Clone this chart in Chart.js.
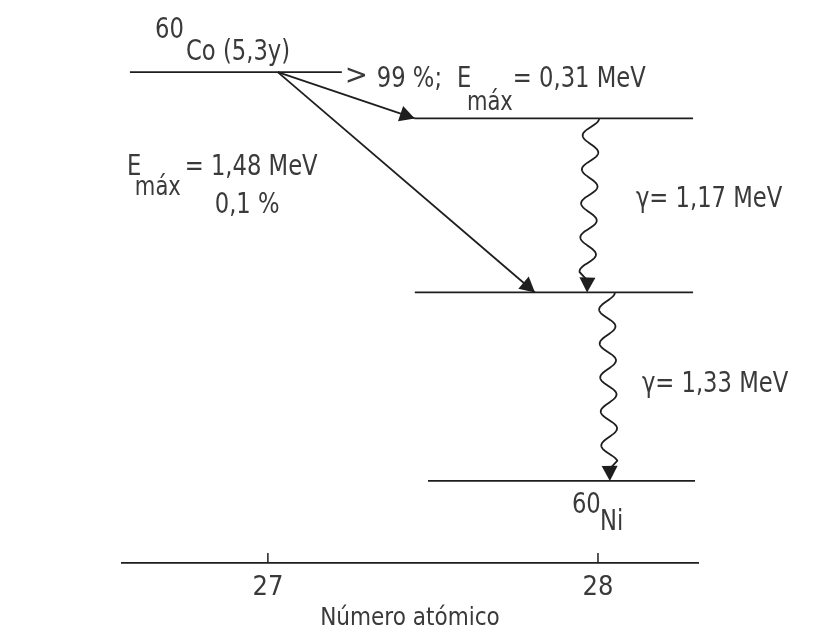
<!DOCTYPE html>
<html>
<head>
<meta charset="utf-8">
<script src="https://cdn.jsdelivr.net/npm/chart.js@4.4.1/dist/chart.umd.min.js"></script>
<style>
  html, body { margin: 0; padding: 0; background: #fff; }
  #wrap { width: 822px; height: 638px; }
</style>
</head>
<body>
<div id="wrap"><canvas id="esquema"></canvas></div>
<script>
// Ejes
var ticksX = [27, 28];
var tituloX = 'Número atómico';

// Niveles de energía (MeV)
var nivelEnergia = [2.82, 2.50, 1.30, 0];
var nivelDesde = [26.582, 27.445, 27.445, 27.485];
var nivelHasta = [27.224, 28.288, 28.288, 28.294];

// Transiciones beta
var betaDesdeX = [27.030, 27.030];
var betaDesdeE = [2.82, 2.82];
var betaHastaX = [27.445, 27.809];
var betaHastaE = [2.50, 1.30];

// Transiciones gamma
var gammaDesdeX = [27.979, 28.027];
var gammaDesdeE = [2.50, 1.30];
var gammaHastaX = [27.967, 28.036];
var gammaHastaE = [1.30, 0];

// Textos
var textos = ['60', 'Co (5,3y)', '>', '99 %;', 'E', 'máx', '= 0,31 MeV', 'E', 'máx', '= 1,48 MeV', '0,1 %', 'γ= 1,17 MeV', 'γ= 1,33 MeV', '60', 'Ni'];
var textoX = [26.658, 26.752, 27.233, 27.330, 27.573, 27.603, 27.742, 26.573, 26.597, 26.748, 26.839, 28.115, 28.133, 27.921, 28.006];
var textoE = [3.055, 2.903, 2.740, 2.717, 2.717, 2.559, 2.717, 2.110, 1.972, 2.110, 1.848, 1.890, 0.614, -0.221, -0.338];

var FUENTE = "'DejaVu Sans Condensed', 'DejaVu Sans', sans-serif";
var LINEA = '#1e1e1e';
var TEXTO = '#3a3a3a';

var datasets = [];

// niveles
for (var i = 0; i < nivelEnergia.length; i++) {
  datasets.push({
    data: [{ x: nivelDesde[i], y: nivelEnergia[i] }, { x: nivelHasta[i], y: nivelEnergia[i] }],
    borderColor: LINEA, borderWidth: 1.8, pointRadius: 0
  });
}
// beta
for (var i = 0; i < betaDesdeX.length; i++) {
  datasets.push({
    data: [{ x: betaDesdeX[i], y: betaDesdeE[i] }, { x: betaHastaX[i], y: betaHastaE[i] }],
    borderColor: LINEA, borderWidth: 1.8, pointRadius: 0, flecha: true
  });
}
// gamma (se dibujan onduladas en el plugin)
for (var i = 0; i < gammaDesdeX.length; i++) {
  datasets.push({
    data: [{ x: gammaDesdeX[i], y: gammaDesdeE[i] }, { x: gammaHastaX[i], y: gammaHastaE[i] }],
    borderColor: 'rgba(0,0,0,0)', borderWidth: 0, pointRadius: 0, flecha: true, ondulada: true
  });
}

function puntaFlecha(ctx, x, y, ux, uy) {
  var largo = 15, medio = 8;
  var bx = x - ux * largo, by = y - uy * largo;
  ctx.beginPath();
  ctx.moveTo(x, y);
  ctx.lineTo(bx - uy * medio, by + ux * medio);
  ctx.lineTo(bx + uy * medio, by - ux * medio);
  ctx.closePath();
  ctx.fill();
}

var pluginDibujo = {
  id: 'dibujo',
  afterDatasetsDraw: function (chart) {
    var ctx = chart.ctx;
    var sx = chart.scales.x, sy = chart.scales.y;
    ctx.save();
    ctx.strokeStyle = LINEA;
    ctx.fillStyle = LINEA;
    ctx.lineWidth = 1.8;

    chart.data.datasets.forEach(function (ds, i) {
      if (!ds.flecha) return;
      var meta = chart.getDatasetMeta(i);
      var p0 = meta.data[0], p1 = meta.data[1];
      var dx = p1.x - p0.x, dy = p1.y - p0.y;
      var L = Math.sqrt(dx * dx + dy * dy);
      var ux = dx / L, uy = dy / L;
      if (ds.ondulada) {
        var A = 8, P = 34;
        var fin = L - 20;
        ctx.beginPath();
        for (var s = 0; s <= fin; s += 0.5) {
          var o = A * Math.cos(2 * Math.PI * s / P);
          var px = p0.x + ux * s + uy * o;
          var py = p0.y + uy * s - ux * o;
          if (s === 0) ctx.moveTo(px, py); else ctx.lineTo(px, py);
        }
        ctx.lineTo(p1.x - ux * 12, p1.y - uy * 12);
        ctx.stroke();
      }
      puntaFlecha(ctx, p1.x, p1.y, ux, uy);
    });

    // marcas de los ticks hacia arriba
    ticksX.forEach(function (v) {
      var px = sx.getPixelForValue(v);
      ctx.lineWidth = 1.5;
      ctx.beginPath();
      ctx.moveTo(px, sy.bottom);
      ctx.lineTo(px, sy.bottom - 10);
      ctx.stroke();
    });

    // textos (algo estrechados, como la tipografía condensada original)
    ctx.fillStyle = TEXTO;
    ctx.textBaseline = 'alphabetic';
    ctx.textAlign = 'left';
    textos.forEach(function (t, k) {
      var sub = (t === 'máx');
      ctx.font = (sub ? '26px ' : '28px ') + FUENTE;
      ctx.save();
      ctx.translate(sx.getPixelForValue(textoX[k]), sy.getPixelForValue(textoE[k]));
      ctx.scale(t === '>' ? 1.1 : 0.9, 1);
      ctx.fillText(t, 0, 0);
      ctx.restore();
    });
    ctx.restore();
  }
};

new Chart(document.getElementById('esquema'), {
  type: 'line',
  data: { datasets: datasets },
  plugins: [pluginDibujo],
  options: {
    responsive: true,
    maintainAspectRatio: false,
    animation: false,
    layout: { padding: { left: 122, right: 124, top: 0, bottom: 0 } },
    plugins: { legend: { display: false }, tooltip: { enabled: false } },
    scales: {
      x: {
        type: 'linear',
        min: 26.558,
        max: 28.303,
        afterBuildTicks: function (scale) {
          scale.ticks = ticksX.map(function (v) { return { value: v }; });
        },
        afterFit: function (scale) { scale.height = 75; },
        grid: { display: true, drawOnChartArea: false, drawTicks: false },
        border: { display: true, color: LINEA, width: 1.8 },
        ticks: {
          padding: 9,
          color: TEXTO,
          font: { family: FUENTE, size: 27 },
          callback: function (v) { return String(v); }
        },
        title: {
          display: true,
          text: tituloX,
          color: TEXTO,
          font: { family: FUENTE, size: 24 },
          padding: { top: 0, bottom: 5 }
        }
      },
      y: {
        type: 'linear',
        display: false,
        min: -0.566,
        max: 3.317
      }
    }
  }
});
</script>
</body>
</html>
